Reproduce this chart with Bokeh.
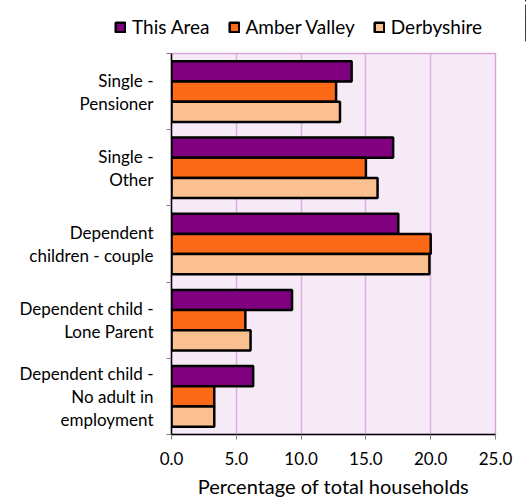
from bokeh.plotting import figure
from bokeh.layouts import column
from bokeh.models import ColumnDataSource, FixedTicker, Legend, LegendItem, Range1d
from bokeh.embed import file_html
from bokeh.resources import INLINE

categories = [
    "Single -\nPensioner",
    "Single -\nOther",
    "Dependent\nchildren - couple",
    "Dependent child -\nLone Parent",
    "Dependent child -\nNo adult in\nemployment",
]
series_names = ["This Area", "Amber Valley", "Derbyshire"]
this_area = [13.9, 17.1, 17.5, 9.3, 6.3]
amber_valley = [12.7, 15.0, 20.0, 5.7, 3.3]
derbyshire = [13.0, 15.9, 19.9, 6.1, 3.3]
x_ticks = [0, 5, 10, 15, 20, 25]
x_tick_labels = ["0.0", "5.0", "10.0", "15.0", "20.0", "25.0"]

colors = ["#800080", "#FC6A17", "#FAC090"]
FONT = "Lato"

n = len(categories)
centers = [n - i - 0.5 for i in range(n)]
bar_h = 0.265
offsets = [bar_h, 0.0, -bar_h]

# ---- main chart ----
p = figure(
    width=526, height=455,
    min_border_left=171, min_border_right=31, min_border_top=8, min_border_bottom=61,
    x_range=Range1d(0, 25), y_range=Range1d(0, n),
    output_backend="svg", toolbar_location=None,
)
p.background_fill_color = "#F6EAF6"
p.border_fill_color = "white"
p.outline_line_color = "#D8A8D8"
p.outline_line_width = 1.5

sources = []
for vals, col, off in zip([this_area, amber_valley, derbyshire], colors, offsets):
    src = ColumnDataSource(dict(y=[c + off for c in centers], right=vals))
    sources.append(src)
    p.hbar(y="y", right="right", left=0, height=bar_h, source=src,
           fill_color=col, line_color="black", line_width=2.5)

# x axis
p.xaxis.ticker = FixedTicker(ticks=x_ticks)
p.xaxis.major_label_overrides = {t: l for t, l in zip(x_ticks, x_tick_labels)}
p.xaxis.axis_label = "Percentage of total households"
p.xaxis.axis_label_text_font = FONT
p.xaxis.axis_label_text_font_style = "normal"
p.xaxis.axis_label_text_font_size = "20px"
p.xaxis.axis_label_text_color = "black"
p.xaxis.axis_label_standoff = 6
p.xaxis.major_label_text_font = FONT
p.xaxis.major_label_text_font_size = "17px"
p.xaxis.major_label_text_color = "black"
p.xaxis.major_label_standoff = 12
p.xaxis.axis_line_color = "black"
p.xaxis.axis_line_width = 1.5
p.xaxis.major_tick_line_color = "#808080"
p.xaxis.major_tick_out = 5
p.xaxis.major_tick_in = 0
p.xaxis.minor_tick_line_color = None

# y axis
p.yaxis.ticker = FixedTicker(ticks=centers, minor_ticks=list(range(n + 1)))
p.yaxis.major_label_overrides = {c: lab for c, lab in zip(centers, categories)}
p.yaxis.major_label_text_font = FONT
p.yaxis.major_label_text_font_size = "17px"
p.yaxis.major_label_text_color = "black"
p.yaxis.major_label_text_line_height = 1.1
p.yaxis.major_label_standoff = 13
p.yaxis.major_tick_line_color = None
p.yaxis.major_tick_out = 0
p.yaxis.major_tick_in = 0
p.yaxis.minor_tick_line_color = "#808080"
p.yaxis.minor_tick_out = 5
p.yaxis.minor_tick_in = 0
p.yaxis.axis_line_color = "black"
p.yaxis.axis_line_width = 1.5

p.xgrid.ticker = FixedTicker(ticks=x_ticks)
p.xgrid.grid_line_color = "#DDB2DD"
p.xgrid.grid_line_width = 1.5
p.ygrid.grid_line_color = None

# ---- legend strip (same series, drawn outside its visible range) ----
lg = figure(
    width=526, height=45, min_border=0,
    x_range=Range1d(-2, -1), y_range=Range1d(0, 1),
    x_axis_location=None, y_axis_location=None,
    output_backend="svg", toolbar_location=None,
)
if hasattr(lg, "frame_align"):
    lg.frame_align = False
    leg_x = 114
else:
    leg_x = 114 - 171
lg.grid.visible = False
lg.outline_line_color = None
lg.background_fill_color = "white"
lg.border_fill_color = "white"

leg_renderers = []
for src, col in zip(sources, colors):
    r = lg.hbar(y="y", right="right", left=0, height=bar_h, source=src,
                fill_color=col, line_color="black", line_width=2.5)
    leg_renderers.append(r)

legend = Legend(
    items=[LegendItem(label=nm, renderers=[r]) for nm, r in zip(series_names, leg_renderers)],
    orientation="horizontal",
    location=(leg_x, 7),
    label_text_font=FONT,
    label_text_font_size="19px",
    label_text_color="black",
    glyph_width=12, glyph_height=12,
    label_standoff=6, spacing=18,
    padding=4, margin=0,
    border_line_color=None, background_fill_alpha=0,
)
lg.add_layout(legend, "center")

layout = column(lg, p, spacing=0)
open("out.html", "w").write(file_html(layout, INLINE))
